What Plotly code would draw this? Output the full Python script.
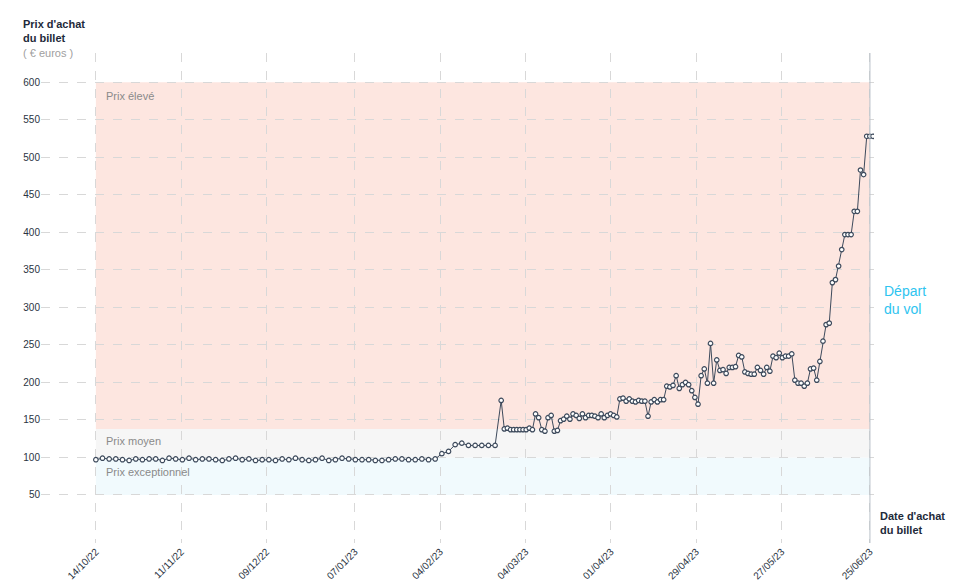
import pandas as pd
import plotly.graph_objects as go

# Partie 1 : environ un point tous les 2 jours (14/10/22 -> 22/02/23)
prix_debut = [97, 99, 98, 98, 97, 96, 98, 97, 98, 98, 96, 99, 98, 97, 99, 97, 98, 98, 97, 96,
              98, 99, 97, 98, 96, 97, 97, 96, 98, 97, 99, 97, 96, 97, 99, 96, 97, 99, 98, 97,
              97, 97, 96, 96, 97, 98, 98, 97, 97, 98, 97, 98, 105, 108, 117, 119, 116, 116,
              116, 116, 116]
# Partie 2 : un point par jour jusqu'au départ
prix_fin = [176, 138, 139, 137, 137, 137, 137, 137, 137, 139, 137, 158, 153, 137, 135, 153, 156,
            135, 136, 149, 151, 155, 151, 158, 156, 152, 158, 153, 156, 156, 155, 153, 158, 153,
            156, 158, 156, 154, 178, 179, 175, 178, 175, 174, 176, 175, 175, 155, 174, 177, 174,
            177, 177, 195, 194, 196, 209, 192, 197, 200, 197, 189, 180, 171, 209, 218, 199, 252,
            199, 230, 216, 217, 212, 220, 220, 221, 236, 234, 214, 212, 211, 211, 220, 216, 211,
            220, 215, 235, 233, 239, 233, 235, 235, 238, 203, 199, 199, 195, 199, 218, 219, 203,
            228, 255, 277, 279, 333, 337, 355, 377, 397, 397, 397, 428, 428, 483, 477, 528, 528,
            528]

dates_debut = pd.date_range("2022-10-14", "2023-02-22", periods=len(prix_debut))
dates_fin = pd.date_range("2023-02-24", "2023-06-26", periods=len(prix_fin))
dates = list(dates_debut) + list(dates_fin)
prix = prix_debut + prix_fin

tick_dates = pd.to_datetime(["2022-10-14", "2022-11-11", "2022-12-09", "2023-01-07", "2023-02-04",
                             "2023-03-04", "2023-04-01", "2023-04-29", "2023-05-27", "2023-06-25"])
tick_labels = [d.strftime("%d/%m/%y") for d in tick_dates]
tick_prix = list(range(50, 601, 50))

# Zones de prix
zones = [(50, 100, "#f1fafd"), (100, 138, "#f6f6f6"), (138, 600, "#fde6e0")]

x0, x1 = pd.Timestamp("2022-10-14"), pd.Timestamp("2023-06-25")

fig = go.Figure()

for bas, haut, couleur in zones:
    fig.add_shape(type="rect", x0=x0, x1=x1, y0=bas, y1=haut, fillcolor=couleur,
                  line_width=0, layer="below")
for y, texte in [(582, "Prix élevé"), (122, "Prix moyen"), (81, "Prix exceptionnel")]:
    fig.add_annotation(x=x0, y=y, text=texte, showarrow=False, xanchor="left", xshift=8,
                       font=dict(size=11, color="#8a8a8a"))

fig.add_trace(go.Scatter(
    x=dates, y=prix, mode="lines+markers",
    line=dict(color="#3d4a5c", width=1),
    marker=dict(size=4.5, color="white", line=dict(color="#3d4a5c", width=1.2)),
    hoverinfo="x+y", showlegend=False
))

# Ligne du départ
fig.add_shape(type="line", x0=x1, x1=x1, y0=0, y1=1, yref="paper", xref="x",
              line=dict(color="#b8c0c8", width=1))
fig.add_annotation(x=1.01, xref="paper", y=310, text="Départ<br>du vol", showarrow=False,
                   xanchor="left", align="left", font=dict(size=14, color="#2ec4f0"))
fig.add_annotation(x=1.005, xref="paper", y=13, text="<b>Date d'achat<br>du billet</b>",
                   showarrow=False, xanchor="left", align="left",
                   font=dict(size=11, color="#1e2a3a"))
fig.add_annotation(x=0, xref="paper", xanchor="left", y=1.0, yref="paper", yanchor="bottom",
                   xshift=-20, yshift=-8,
                   text="<b>Prix d'achat<br>du billet</b><br><span style='color:#a0a0a0'>( € euros )</span>",
                   showarrow=False, align="left", font=dict(size=11, color="#1e2a3a"))

fig.update_layout(
    width=958, height=585, template="plotly_white",
    plot_bgcolor="white", paper_bgcolor="white",
    margin=dict(l=33, r=92, t=45, b=50),
    font=dict(family="Liberation Sans, Arial", size=10, color="#2a3442"),
    xaxis=dict(range=[pd.Timestamp("2022-09-26"), pd.Timestamp("2023-06-26 08:00")],
               tickvals=tick_dates, ticktext=tick_labels, tickangle=-45,
               showgrid=True, gridcolor="#d8d8d8", griddash="dash", zeroline=False,
               showline=False),
    yaxis=dict(range=[-14, 639], tickvals=tick_prix, showgrid=True, gridcolor="#d8d8d8",
               griddash="dash", zeroline=False),
)

fig.write_html("out.html")
